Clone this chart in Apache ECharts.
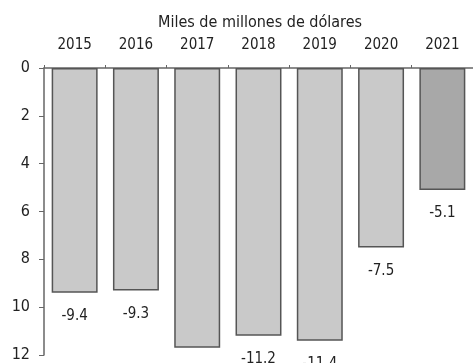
<!DOCTYPE html>
<html lang="es">
<head>
<meta charset="utf-8">
<title>Miles de millones de dólares</title>
<script src="https://cdn.jsdelivr.net/npm/echarts@6/dist/echarts.min.js"></script>
<style>
    html, body { margin: 0; padding: 0; background: #fff; }
    #main { width: 473px; height: 363px; }
</style>
</head>
<body>
<div id="main"></div>
<script>
    var years = ['2015', '2016', '2017', '2018', '2019', '2020', '2021'];
    var values = [-9.4, -9.3, -11.7, -11.2, -11.4, -7.5, -5.1];
    var barColors = ['#c9c9c9', '#c9c9c9', '#c9c9c9', '#c9c9c9', '#c9c9c9', '#c9c9c9', '#a8a8a8'];

    var font = "'Liberation Sans Narrow', 'DejaVu Sans Condensed', sans-serif";

    var data = [];
    for (var i = 0; i < values.length; i++) {
        data.push({ value: values[i], itemStyle: { color: barColors[i] } });
    }

    var myChart = echarts.init(document.getElementById('main'));
    var option = {
        animation: false,
        title: {
            text: 'Miles de millones de dólares',
            left: 255,
            top: 10,
            textAlign: 'center',
            textStyle: { fontFamily: font, fontSize: 16, fontWeight: 'normal', color: '#222' }
        },
        grid: { left: 44, top: 68, width: 434, height: 287 },
        xAxis: {
            type: 'category',
            position: 'top',
            data: years,
            axisLine: { lineStyle: { color: '#666', width: 1.5 } },
            axisTick: { show: true, inside: false, length: 3, lineStyle: { color: '#666' } },
            axisLabel: { margin: 15, fontFamily: font, fontSize: 15, color: '#222' }
        },
        yAxis: {
            type: 'value',
            min: -12,
            max: 0,
            interval: 2,
            splitLine: { show: false },
            axisLine: { show: true, lineStyle: { color: '#666', width: 1.5 } },
            axisTick: { show: true, length: 5, lineStyle: { color: '#666' } },
            axisLabel: {
                margin: 14,
                fontFamily: font,
                fontSize: 16,
                color: '#222',
                formatter: function (v) { return Math.abs(v); }
            }
        },
        series: [{
            type: 'bar',
            data: data,
            barCategoryGap: '25%',
            itemStyle: { borderColor: '#555', borderWidth: 1.5 },
            label: {
                show: true,
                position: 'bottom',
                distance: 16,
                fontFamily: font,
                fontSize: 15,
                color: '#222'
            }
        }]
    };
    myChart.setOption(option);
</script>
</body>
</html>
